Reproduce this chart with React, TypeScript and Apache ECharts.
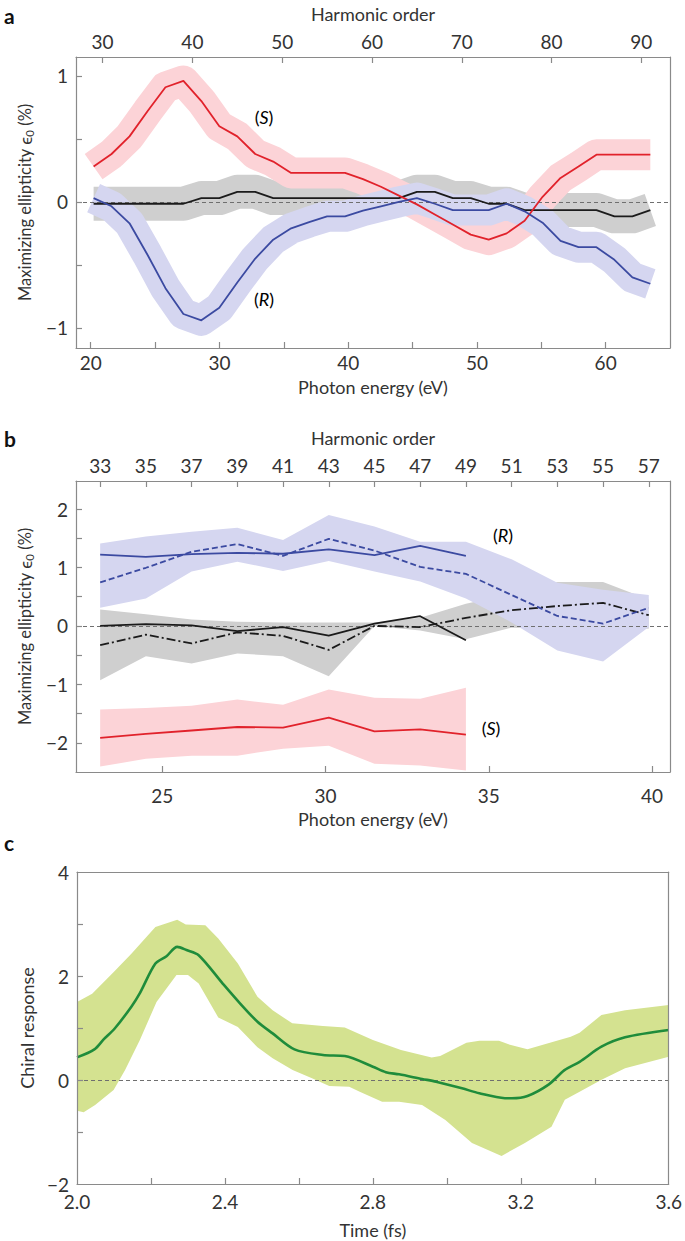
import React, { useEffect, useRef } from 'react';
import * as echarts from 'echarts';

// ---------------- data ----------------
const EV_PER_ORDER_A = 0.6975;
const EV_PER_ORDER_B = 0.7;

// Panel a (harmonic orders, odd)
const aOrders = [29, 31, 33, 35, 37, 39, 41, 43, 45, 47, 49, 51, 53, 55, 57, 59, 61, 63, 65, 67, 69, 71, 73, 75, 77, 79, 81, 83, 85, 87, 89, 91];
const aRedS = [0.28, 0.38, 0.52, 0.72, 0.91, 0.96, 0.8, 0.6, 0.52, 0.38, 0.32, 0.23, 0.23, 0.23, 0.23, 0.18, 0.12, 0.05, -0.02, -0.1, -0.18, -0.26, -0.3, -0.25, -0.15, 0.04, 0.19, 0.28, 0.375, 0.375, 0.375, 0.375];
const aBlueR = [0.03, -0.035, -0.17, -0.42, -0.685, -0.89, -0.94, -0.84, -0.64, -0.45, -0.3, -0.21, -0.16, -0.115, -0.115, -0.07, -0.035, 0.0, 0.03, -0.015, -0.065, -0.065, -0.065, -0.015, -0.075, -0.165, -0.31, -0.36, -0.36, -0.46, -0.6, -0.65];
const aBlack = [-0.015, -0.015, -0.015, -0.015, -0.015, -0.015, 0.03, 0.03, 0.08, 0.08, 0.03, 0.03, 0.03, 0.03, 0.03, 0.03, 0.03, 0.03, 0.08, 0.08, 0.03, 0.03, -0.015, -0.015, -0.065, -0.065, -0.065, -0.065, -0.065, -0.115, -0.115, -0.065];

// Panel b
const bOrders = [33, 35, 37, 39, 41, 43, 45, 47, 49, 51, 53, 55, 57];
const bBlueSolid = [1.22, 1.18, 1.23, 1.25, 1.235, 1.31, 1.21, 1.37, 1.2];
const bBlueDashed = [0.745, 0.995, 1.27, 1.4, 1.2, 1.49, 1.29, 1.01, 0.89, 0.53, 0.17, 0.04, 0.31];
const bBlueUpper = [1.41, 1.53, 1.61, 1.68, 1.47, 1.9, 1.7, 1.44, 1.44, 1.14, 0.74, 0.62, 0.53];
const bBlueLower = [0.31, 0.47, 0.93, 1.1, 0.94, 1.11, 0.93, 0.76, 0.47, 0.06, -0.42, -0.61, -0.02];
const bBlackSolid = [0.0, 0.03, 0.01, -0.09, -0.02, -0.165, 0.04, 0.166, -0.245];
const bBlackDashDot = [-0.33, -0.15, -0.3, -0.11, -0.17, -0.41, 0.0, -0.02, 0.137, 0.27, 0.34, 0.395, 0.183];
const bGreyUpper = [0.28, 0.2, 0.11, 0.07, 0.06, 0.06, 0.06, 0.14, 0.38, 0.55, 0.75, 0.75, 0.45];
const bGreyLower = [-0.93, -0.52, -0.645, -0.47, -0.52, -0.86, 0.0, -0.08, -0.23, -0.03, -0.05, 0.0, -0.05];
const bRedS = [-1.915, -1.846, -1.79, -1.73, -1.74, -1.57, -1.806, -1.77, -1.86];
const bRedUpper = [-1.43, -1.406, -1.366, -1.26, -1.35, -1.09, -1.23, -1.245, -1.057];
const bRedLower = [-2.407, -2.275, -2.22, -2.22, -2.1, -2.05, -2.36, -2.39, -2.475];

// Panel c
const cLineTime = [2.0, 2.047, 2.072, 2.102, 2.147, 2.17, 2.212, 2.242, 2.271, 2.296, 2.329, 2.394, 2.44, 2.488, 2.529, 2.588, 2.665, 2.724, 2.8, 2.835, 2.871, 2.933, 2.971, 3.041, 3.088, 3.157, 3.176, 3.218, 3.276, 3.318, 3.359, 3.418, 3.482, 3.6];
const cLineValue = [0.435, 0.589, 0.78, 0.99, 1.41, 1.67, 2.24, 2.38, 2.56, 2.5, 2.4, 1.855, 1.48, 1.12, 0.896, 0.589, 0.48, 0.46, 0.256, 0.15, 0.109, 0.02, -0.032, -0.16, -0.256, -0.35, -0.352, -0.307, -0.083, 0.19, 0.35, 0.64, 0.82, 0.96];
const cUpperTime = [2.0, 2.041, 2.1, 2.147, 2.212, 2.271, 2.294, 2.347, 2.382, 2.435, 2.488, 2.529, 2.582, 2.665, 2.724, 2.8, 2.876, 2.959, 2.982, 3.053, 3.088, 3.141, 3.165, 3.218, 3.288, 3.335, 3.359, 3.418, 3.482, 3.6];
const cUpperValue = [1.5, 1.66, 2.08, 2.43, 2.94, 3.08, 2.99, 2.975, 2.72, 2.24, 1.6, 1.34, 1.09, 1.04, 1.01, 0.77, 0.576, 0.435, 0.46, 0.717, 0.755, 0.755, 0.69, 0.589, 0.736, 0.83, 0.91, 1.25, 1.34, 1.44];
const cLowerTime = [2.0, 2.018, 2.049, 2.099, 2.13, 2.17, 2.215, 2.269, 2.3, 2.329, 2.382, 2.435, 2.488, 2.529, 2.583, 2.637, 2.682, 2.736, 2.763, 2.825, 2.871, 2.933, 2.996, 3.068, 3.148, 3.211, 3.283, 3.319, 3.359, 3.417, 3.482, 3.6];
const cLowerValue = [-0.59, -0.62, -0.48, -0.19, 0.19, 0.77, 1.5, 2.02, 2.02, 1.855, 1.2, 1.02, 0.63, 0.42, 0.19, 0.03, -0.115, -0.128, -0.22, -0.42, -0.42, -0.48, -0.77, -1.21, -1.46, -1.21, -0.9, -0.38, -0.224, 0.0, 0.224, 0.448];

// Tick labels
const aEnergyLabels = [20, 30, 40, 50, 60];
const aEnergyTicks = [20, 25, 30, 35, 40, 45, 50, 55, 60];
const aHarmonicLabels = [30, 40, 50, 60, 70, 80, 90];
const aYLabels = [-1, 0, 1];
const aYTicks = [-1, -0.5, 0, 0.5, 1];
const bEnergyLabels = [25, 30, 35, 40];
const bHarmonicLabels = [33, 35, 37, 39, 41, 43, 45, 47, 49, 51, 53, 55, 57];
const bYLabels = [-2, -1, 0, 1, 2];
const bYTicks = [-2, -1.5, -1, -0.5, 0, 0.5, 1, 1.5, 2];
const cTimeLabels = [2.0, 2.4, 2.8, 3.2, 3.6];
const cTimeTicks = [2.2, 2.4, 2.6, 2.8, 3.0, 3.2, 3.4];
const cYLabels = [-2, 0, 2, 4];
const cYTicks = [-1, 0, 1, 2, 3];

// Axis ranges
const A_X = [18.86, 65.0];
const A_Y = [-1.16, 1.15];
const B_X = [22.36, 40.55];
const B_Y = [-2.5, 2.48];
const C_X = [2.0, 3.6];
const C_Y = [-2, 4];

// ---------------- styles ----------------
const FONT = 'Lato, "Open Sans", "DejaVu Sans", sans-serif';
const TXT = '#333333';
const AXC = '#8a8a8a';
const RED = '#e1222b';
const RED_BAND = '#fcd3d7';
const BLUE = '#3b4aa1';
const BLUE_BAND = '#d5d6f0';
const BLACK = '#1b1b1b';
const GREY_BAND = '#cfcfcf';
const GREEN = '#1f8c3b';
const GREEN_BAND = '#d4e290';
const TICK_FS = 19;

const minus = (v: number) => (v < 0 ? '\u2212' + Math.abs(v) : String(v));

function xAxisDef(gridIndex: number, position: 'bottom' | 'top', range: number[], labels: number[] | null, ticks: number[] | null, name: string, nameGap: number, margin: number, formatter?: (v: number) => string) {
  return {
    type: 'value',
    gridIndex,
    position,
    min: range[0],
    max: range[1],
    name,
    nameLocation: 'middle',
    nameGap,
    nameTextStyle: { fontSize: 18, color: TXT, fontFamily: FONT },
    axisLine: { show: true, onZero: false, lineStyle: { color: AXC, width: 1.2 } },
    axisTick: ticks ? { show: true, inside: true, length: 6, customValues: ticks, lineStyle: { color: AXC, width: 1.2 } } : { show: false },
    axisLabel: labels ? { show: true, customValues: labels, margin, fontSize: TICK_FS, color: TXT, fontFamily: FONT, formatter } : { show: false },
    splitLine: { show: false },
    z: 10,
  };
}

function yAxisDef(gridIndex: number, position: 'left' | 'right', range: number[], labels: number[] | null, ticks: number[] | null, name: string, nameGap: number, rich?: any, nameSize = 18) {
  return {
    type: 'value',
    gridIndex,
    position,
    min: range[0],
    max: range[1],
    name,
    nameLocation: 'middle',
    nameGap,
    nameTextStyle: { fontSize: nameSize, color: TXT, fontFamily: FONT, rich },
    axisLine: { show: true, onZero: false, lineStyle: { color: AXC, width: 1.2 } },
    axisTick: ticks ? { show: true, inside: true, length: 6, customValues: ticks, lineStyle: { color: AXC, width: 1.2 } } : { show: false },
    axisLabel: labels ? { show: true, customValues: labels, margin: 8, fontSize: TICK_FS, color: TXT, fontFamily: FONT, formatter: minus } : { show: false },
    splitLine: { show: false },
    z: 10,
  };
}

function lineSeries(xi: number, yi: number, data: number[][], color: string, width: number, type: any = 'solid', z = 5, extra: any = {}) {
  return {
    type: 'line',
    xAxisIndex: xi,
    yAxisIndex: yi,
    data,
    symbol: 'none',
    showSymbol: false,
    silent: true,
    z,
    lineStyle: { color, width, type, cap: 'butt', join: 'round' },
    emphasis: { disabled: true },
    ...extra,
  };
}

function bandSeries(xi: number, yi: number, upper: number[][], lower: number[][], color: string, z: number, smooth = 0) {
  return {
    type: 'custom',
    xAxisIndex: xi,
    yAxisIndex: yi,
    z,
    silent: true,
    clip: true,
    data: [upper[0]],
    renderItem: (params: any, api: any) => {
      if (params.dataIndex !== 0) return null;
      const pts = upper.map((p) => api.coord(p)).concat(lower.slice().reverse().map((p) => api.coord(p)));
      return { type: 'polygon', shape: { points: pts, smooth }, style: { fill: color } };
    },
  };
}

const zeroLine = {
  silent: true,
  symbol: ['none', 'none'],
  label: { show: false },
  lineStyle: { color: '#6f6f6f', type: [4, 3], width: 1 },
  data: [{ yAxis: 0 }],
};

const epsRich = {
  t: { fontSize: 16.5, color: TXT, fontFamily: FONT, lineHeight: 20 },
  e: { fontSize: 17, color: TXT, fontFamily: FONT, lineHeight: 20 },
  s: { fontSize: 11.5, color: TXT, fontFamily: FONT, lineHeight: 11, verticalAlign: 'bottom' },
};
const EPS_NAME = '{t|Maximizing ellipticity }{e|\u03F5}{s|0}{t| (%)}';

const labelRich = {
  n: { fontSize: 18, color: TXT, fontFamily: FONT },
  i: { fontSize: 18, color: TXT, fontFamily: FONT, fontStyle: 'italic' },
};

function italicLabel(x: number, y: number, letter: string) {
  return {
    type: 'text',
    x,
    y,
    z: 20,
    style: { text: `{n|(}{i|${letter}}{n|)}`, rich: labelRich, align: 'center', verticalAlign: 'middle' },
  };
}

function panelLetter(x: number, y: number, letter: string) {
  return {
    type: 'text',
    x,
    y,
    z: 20,
    style: { text: letter, fontSize: 21, fontWeight: 'bold', fontFamily: FONT, fill: '#111', align: 'left', verticalAlign: 'middle' },
  };
}

function buildOption() {
  const aX = (q: number) => q * EV_PER_ORDER_A;
  const bX = (q: number) => q * EV_PER_ORDER_B;
  const aRedData = aOrders.map((q, i) => [aX(q), aRedS[i]]);
  const aBlueData = aOrders.map((q, i) => [aX(q), aBlueR[i]]);
  const aBlackData = aOrders.map((q, i) => [aX(q), aBlack[i]]);

  const bp = (vals: number[]) => vals.map((v, i) => [bX(bOrders[i]), v]);

  return {
    animation: false,
    grid: [
      { left: 76, top: 57, width: 594, height: 291 },
      { left: 76, top: 481, width: 594, height: 291 },
      { left: 77, top: 872, width: 595, height: 312 },
    ],
    xAxis: [
      xAxisDef(0, 'bottom', A_X, aEnergyLabels, aEnergyTicks, 'Photon energy (eV)', 30, 5),
      xAxisDef(0, 'top', [A_X[0] / EV_PER_ORDER_A, A_X[1] / EV_PER_ORDER_A], aHarmonicLabels, aHarmonicLabels, 'Harmonic order', 34, 6),
      xAxisDef(1, 'bottom', B_X, bEnergyLabels, bEnergyLabels, 'Photon energy (eV)', 38, 14),
      xAxisDef(1, 'top', [B_X[0] / EV_PER_ORDER_B, B_X[1] / EV_PER_ORDER_B], bHarmonicLabels, bHarmonicLabels, 'Harmonic order', 34, 6),
      xAxisDef(2, 'bottom', C_X, cTimeLabels, cTimeTicks, 'Time (fs)', 37, 8, (v: number) => v.toFixed(1)),
      xAxisDef(2, 'top', C_X, null, null, '', 0, 0),
    ],
    yAxis: [
      yAxisDef(0, 'left', A_Y, aYLabels, aYTicks, EPS_NAME, 30, epsRich, 16.5),
      yAxisDef(1, 'left', B_Y, bYLabels, bYTicks, EPS_NAME, 30, epsRich, 16.5),
      yAxisDef(2, 'left', C_Y, cYLabels, cYTicks, 'Chiral response', 29),
      yAxisDef(0, 'right', A_Y, null, null, '', 0),
      yAxisDef(1, 'right', B_Y, null, null, '', 0),
      yAxisDef(2, 'right', C_Y, null, null, '', 0),
    ],
    series: [
      // panel a bands
      lineSeries(0, 0, aBlackData, GREY_BAND, 34, 'solid', 1),
      lineSeries(0, 0, aRedData, RED_BAND, 31, 'solid', 1),
      lineSeries(0, 0, aBlueData, BLUE_BAND, 31, 'solid', 1),
      // panel a lines
      lineSeries(0, 0, aBlackData, BLACK, 1.8, 'solid', 5, { markLine: zeroLine }),
      lineSeries(0, 0, aRedData, RED, 1.8),
      lineSeries(0, 0, aBlueData, BLUE, 1.8),

      // panel b bands
      bandSeries(2, 1, bp(bGreyUpper), bp(bGreyLower), GREY_BAND, 1),
      bandSeries(2, 1, bp(bRedUpper), bp(bRedLower), RED_BAND, 1),
      bandSeries(2, 1, bp(bBlueUpper), bp(bBlueLower), BLUE_BAND, 1),
      // panel b lines
      lineSeries(2, 1, bp(bBlackSolid), BLACK, 1.8, 'solid', 5, { markLine: zeroLine }),
      lineSeries(2, 1, bp(bBlackDashDot), BLACK, 1.8, [9, 3, 2, 3]),
      lineSeries(2, 1, bp(bBlueSolid), BLUE, 1.8),
      lineSeries(2, 1, bp(bBlueDashed), BLUE, 1.8, [6, 3]),
      lineSeries(2, 1, bp(bRedS), RED, 1.8),

      // panel c
      bandSeries(4, 2, cUpperTime.map((t, i) => [t, cUpperValue[i]]), cLowerTime.map((t, i) => [t, cLowerValue[i]]), GREEN_BAND, 1),
      lineSeries(4, 2, cLineTime.map((t, i) => [t, cLineValue[i]]), GREEN, 2.6, 'solid', 5, { markLine: zeroLine, smooth: 0.3 }),
    ],
    graphic: [
      panelLetter(4, 15, 'a'),
      panelLetter(4, 438, 'b'),
      panelLetter(4, 842, 'c'),
      italicLabel(264, 117, 'S'),
      italicLabel(264, 299, 'R'),
      italicLabel(503, 535, 'R'),
      italicLabel(491, 728, 'S'),
    ],
  };
}

export default function App() {
  const ref = useRef<HTMLDivElement>(null);
  useEffect(() => {
    if (!ref.current) return;
    const chart = echarts.init(ref.current, undefined, { renderer: 'svg' });
    chart.setOption(buildOption() as any);
    return () => chart.dispose();
  }, []);
  return <div ref={ref} style={{ position: 'absolute', left: 0, top: 0, width: 685, height: 1241, background: '#fff' }} />;
}
